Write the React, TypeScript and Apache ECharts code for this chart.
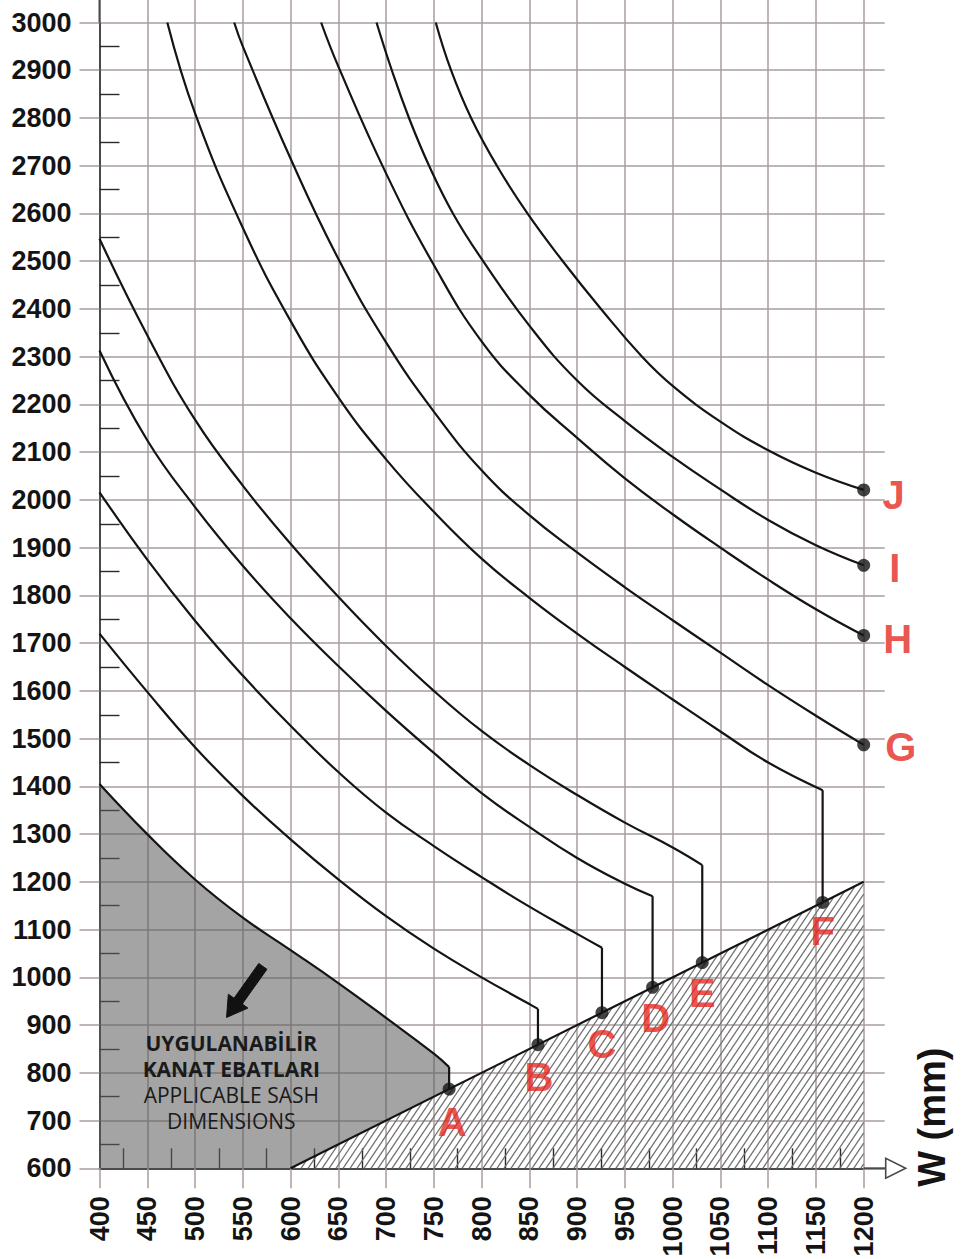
import React, { useEffect, useRef } from "react";
import * as echarts from "echarts";

// ---- data ----
const xMin = 400;
const xMax = 1200;
const yMin = 600;
const yMax = 3000;

const curveA = [[400, 1405], [450, 1300], [500, 1205], [550, 1125], [600, 1057], [650, 988], [700, 915], [750, 840], [766, 812]];
const curveB = [[400, 1720], [450, 1598], [500, 1482], [550, 1380], [600, 1289], [650, 1205], [700, 1128], [750, 1060], [800, 1000], [850, 944], [859, 934]];
const curveC = [[400, 2016], [450, 1875], [500, 1747], [550, 1632], [600, 1527], [650, 1430], [700, 1345], [750, 1275], [800, 1210], [850, 1148], [900, 1091], [926, 1062]];
const curveD = [[400, 2313], [450, 2125], [500, 1985], [550, 1862], [600, 1752], [650, 1652], [700, 1558], [750, 1470], [800, 1386], [850, 1315], [900, 1250], [950, 1196], [979, 1170]];
const curveE = [[400, 2547], [450, 2345], [500, 2168], [550, 2030], [600, 1908], [650, 1797], [700, 1694], [750, 1600], [800, 1516], [850, 1445], [900, 1382], [950, 1324], [1000, 1272], [1031, 1235]];
const curveF = [[471, 3000], [500, 2810], [550, 2570], [600, 2375], [650, 2215], [700, 2085], [750, 1975], [800, 1877], [850, 1795], [900, 1720], [950, 1650], [1000, 1582], [1050, 1515], [1100, 1450], [1157, 1392]];
const curveG = [[541, 3000], [550, 2950], [600, 2715], [650, 2505], [700, 2330], [750, 2185], [800, 2062], [850, 1968], [900, 1890], [950, 1817], [1000, 1748], [1050, 1680], [1100, 1612], [1150, 1548], [1200, 1487]];
const curveH = [[632, 3000], [650, 2908], [700, 2684], [750, 2492], [800, 2332], [850, 2220], [900, 2130], [950, 2045], [1000, 1970], [1050, 1900], [1100, 1833], [1150, 1771], [1200, 1716]];
const curveI = [[690, 3000], [706, 2900], [724, 2800], [745, 2700], [770, 2600], [800, 2505], [850, 2365], [900, 2250], [950, 2165], [1000, 2090], [1050, 2022], [1100, 1958], [1150, 1905], [1200, 1863]];
const curveJ = [[752, 3000], [768, 2900], [789, 2800], [816, 2700], [848, 2600], [885, 2500], [925, 2400], [968, 2300], [1000, 2239], [1050, 2164], [1100, 2104], [1150, 2057], [1200, 2021]];

const curves = [curveA, curveB, curveC, curveD, curveE, curveF, curveG, curveH, curveI, curveJ];

const letters = ["A", "B", "C", "D", "E", "F", "G", "H", "I", "J"];
const dotX = [766, 859, 926, 979, 1031, 1157, 1200, 1200, 1200, 1200];
const dotY = [766, 859, 926, 979, 1031, 1157, 1487, 1716, 1863, 2021];

const diagonal = [[600, 600], [1200, 1200]];

const noteLines = ["UYGULANABİLİR", "KANAT EBATLARI", "APPLICABLE SASH", "DIMENSIONS"];
const axisName = "W (mm)";

// ---- styling / layout (not data) ----
const FONT = '"Liberation Sans", Arial, Helvetica, sans-serif';
const GRID_COLOR = "#a89d9d";
const AXIS_COLOR = "#4a4a4a";
const INK = "#141414";
const RED = "#e5281f";
const labelOffsets = [[3, 33], [1, 32], [0, 31], [3, 31], [0, 30], [0, 29], [37, 2], [34, 3], [31, 3], [30, 5]];
const noteAnchor = [538, 862];
const arrowTail = [571, 1023];
const arrowTip = [533, 916];
const axisNameAnchor = [1272, 707];

export default function App() {
  const ref = useRef<HTMLDivElement>(null);

  useEffect(() => {
    if (!ref.current) return;
    const chart = echarts.init(ref.current, null, { renderer: "svg" });

    const baseX = {
      type: "value",
      min: xMin,
      max: xMax,
      interval: 50,
      splitLine: { show: false },
      axisLabel: { show: false },
      axisLine: { show: false, onZero: false },
    };
    const baseY = {
      type: "value",
      min: yMin,
      max: yMax,
      interval: 100,
      splitLine: { show: false },
      axisLabel: { show: false },
      axisLine: { show: false, onZero: false },
    };

    const grayOutline = [...curveA, [dotX[0], dotY[0]], diagonal[0], [xMin, yMin]];

    const series: any[] = [];

    series.push({
      type: "custom",
      coordinateSystem: "cartesian2d",
      silent: true,
      z: 1,
      data: [[xMin, yMin]],
      renderItem: (_p: any, api: any) => {
        const pts = grayOutline.map((p) => api.coord(p));
        return { type: "polygon", shape: { points: pts }, style: { fill: "rgba(92,92,92,0.56)", stroke: "none" } };
      },
    });

    series.push({
      type: "custom",
      coordinateSystem: "cartesian2d",
      silent: true,
      z: 1,
      data: [[xMax, yMin]],
      renderItem: (_p: any, api: any) => {
        const poly = [api.coord(diagonal[0]), api.coord(diagonal[1]), api.coord([xMax, yMin])];
        const ang = (56 * Math.PI) / 180;
        const nx = Math.sin(ang);
        const ny = Math.cos(ang);
        const proj = poly.map((p) => p[0] * nx + p[1] * ny);
        const cmin = Math.min(...proj);
        const cmax = Math.max(...proj);
        const step = 5.8;
        const children: any[] = [];
        for (let c = cmin + step / 2; c < cmax; c += step) {
          const hits: number[][] = [];
          for (let i = 0; i < 3; i++) {
            const a = poly[i];
            const b = poly[(i + 1) % 3];
            const da = proj[i] - c;
            const db = proj[(i + 1) % 3] - c;
            if ((da <= 0 && db > 0) || (da > 0 && db <= 0)) {
              const t = da / (da - db);
              hits.push([a[0] + t * (b[0] - a[0]), a[1] + t * (b[1] - a[1])]);
            }
          }
          if (hits.length === 2) {
            children.push({
              type: "line",
              shape: { x1: hits[0][0], y1: hits[0][1], x2: hits[1][0], y2: hits[1][1] },
              style: { stroke: "#707070", lineWidth: 1.25 },
            });
          }
        }
        return { type: "group", children };
      },
    });

    series.push({
      type: "line",
      data: diagonal,
      symbol: "none",
      silent: true,
      z: 3,
      lineStyle: { color: INK, width: 2.2 },
    });

    curves.forEach((c, i) => {
      series.push({
        type: "line",
        name: "curve" + letters[i],
        data: c,
        smooth: 0.45,
        symbol: "none",
        silent: true,
        z: 3,
        lineStyle: { color: INK, width: 2.2 },
      });
      const last = c[c.length - 1];
      if (last[0] !== dotX[i] || last[1] !== dotY[i]) {
        series.push({
          type: "line",
          data: [last, [dotX[i], dotY[i]]],
          symbol: "none",
          silent: true,
          z: 3,
          lineStyle: { color: INK, width: 2.2 },
        });
      }
    });

    series.push({
      type: "scatter",
      silent: true,
      clip: false,
      z: 5,
      symbolSize: 13,
      itemStyle: { color: INK },
      data: letters.map((l, i) => ({
        name: l,
        value: [dotX[i], dotY[i]],
        label: { offset: labelOffsets[i] },
      })),
      label: {
        show: true,
        position: "inside",
        formatter: (p: any) => p.name,
        color: RED,
        fontSize: 40,
        fontWeight: "bold",
        fontFamily: FONT,
      },
    });

    chart.setOption({
      animation: false,
      backgroundColor: "#ffffff",
      grid: { left: 99.5, right: 107.3, top: 22.5, bottom: 90.7, containLabel: false, outerBoundsMode: "none" },
      xAxis: [
        {
          type: "value",
          position: "bottom",
          min: xMin,
          max: xMax,
          interval: 50,
          axisLine: { show: true, onZero: false, lineStyle: { color: AXIS_COLOR, width: 2 } },
          axisTick: { show: false, inside: true },
          minorTick: { show: true, splitNumber: 2, length: 20, lineStyle: { color: "#2a2a2a", width: 1.4 } },
          minorSplitLine: { show: false },
          axisLabel: {
            rotate: 90,
            margin: 28,
            fontSize: 27,
            fontWeight: "bold",
            color: INK,
            fontFamily: FONT,
            formatter: (v: number) => String(v),
          },
          splitLine: { show: true, lineStyle: { color: GRID_COLOR, width: 1.5 } },
        },
        { ...baseX, position: "bottom", axisTick: { show: true, length: 20, lineStyle: { color: GRID_COLOR, width: 1.5 } } },
        { ...baseX, position: "top", axisTick: { show: true, length: 23, lineStyle: { color: GRID_COLOR, width: 1.5 } } },
      ],
      yAxis: [
        {
          type: "value",
          position: "left",
          min: yMin,
          max: yMax,
          interval: 100,
          axisLine: { show: true, onZero: false, lineStyle: { color: AXIS_COLOR, width: 2 } },
          axisTick: { show: false, inside: true },
          minorTick: { show: true, splitNumber: 2, length: 20, lineStyle: { color: "#2a2a2a", width: 1.4 } },
          minorSplitLine: { show: false },
          axisLabel: {
            margin: 28,
            fontSize: 27,
            fontWeight: "bold",
            color: INK,
            fontFamily: FONT,
            formatter: (v: number) => String(v),
          },
          splitLine: { show: true, lineStyle: { color: GRID_COLOR, width: 1.5 } },
        },
        { ...baseY, position: "left", axisTick: { show: true, length: 20, lineStyle: { color: GRID_COLOR, width: 1.5 } } },
        { ...baseY, position: "right", axisTick: { show: true, length: 21, lineStyle: { color: GRID_COLOR, width: 1.5 } } },
      ],
      series,
    });

    const toPx = (p: number[]) => chart.convertToPixel({ gridIndex: 0 } as any, p) as number[];
    const topLeft = toPx([xMin, yMax]);
    const axisEnd = toPx([xMax, yMin]);
    const note = toPx(noteAnchor);
    const tail = toPx(arrowTail);
    const tip = toPx(arrowTip);
    const wName = toPx(axisNameAnchor);

    const dx = tip[0] - tail[0];
    const dy = tip[1] - tail[1];
    const len = Math.hypot(dx, dy);
    const ux = dx / len;
    const uy = dy / len;
    const nx = -uy;
    const ny = ux;
    const sw = 5;
    const hw = 12;
    const hl = 20;
    const neck = [tip[0] - ux * hl, tip[1] - uy * hl];
    const arrowPts = [
      [tail[0] + nx * sw, tail[1] + ny * sw],
      [neck[0] + nx * sw, neck[1] + ny * sw],
      [neck[0] + nx * hw, neck[1] + ny * hw],
      [tip[0], tip[1]],
      [neck[0] - nx * hw, neck[1] - ny * hw],
      [neck[0] - nx * sw, neck[1] - ny * sw],
      [tail[0] - nx * sw, tail[1] - ny * sw],
    ];

    const graphic: any[] = [
      {
        type: "line",
        silent: true,
        z: 10,
        shape: { x1: topLeft[0], y1: topLeft[1], x2: topLeft[0], y2: 0 },
        style: { stroke: AXIS_COLOR, lineWidth: 2 },
      },
      {
        type: "line",
        silent: true,
        z: 10,
        shape: { x1: axisEnd[0], y1: axisEnd[1], x2: axisEnd[0] + 22, y2: axisEnd[1] },
        style: { stroke: AXIS_COLOR, lineWidth: 2 },
      },
      {
        type: "polygon",
        silent: true,
        z: 10,
        shape: {
          points: [
            [axisEnd[0] + 22, axisEnd[1] - 10],
            [axisEnd[0] + 22, axisEnd[1] + 10],
            [axisEnd[0] + 42, axisEnd[1]],
          ],
        },
        style: { fill: "#ffffff", stroke: AXIS_COLOR, lineWidth: 1.6 },
      },
      {
        type: "polygon",
        silent: true,
        z: 10,
        shape: { points: arrowPts },
        style: { fill: "#111111", stroke: "#111111", lineWidth: 1 },
      },
      {
        type: "text",
        silent: true,
        z: 10,
        x: wName[0],
        y: wName[1],
        rotation: Math.PI / 2,
        style: {
          text: axisName,
          fill: INK,
          fontSize: 38,
          fontWeight: "bold",
          fontFamily: FONT,
          align: "center",
          verticalAlign: "middle",
        },
      },
    ];
    noteLines.forEach((t, i) => {
      graphic.push({
        type: "text",
        silent: true,
        z: 10,
        x: note[0],
        y: note[1] + i * 25.8,
        style: {
          text: t,
          fill: "#1a1a1a",
          fontSize: 21,
          fontWeight: i < 2 ? "bold" : "normal",
          fontFamily: '"Open Sans", "Noto Sans", sans-serif',
          align: "center",
          verticalAlign: "middle",
        },
      });
    });

    chart.setOption({ graphic });

    return () => {
      chart.dispose();
    };
  }, []);

  return (
    <div
      ref={ref}
      style={{ position: "absolute", left: 0, top: 0, width: 971, height: 1259, background: "#fff" }}
    />
  );
}
